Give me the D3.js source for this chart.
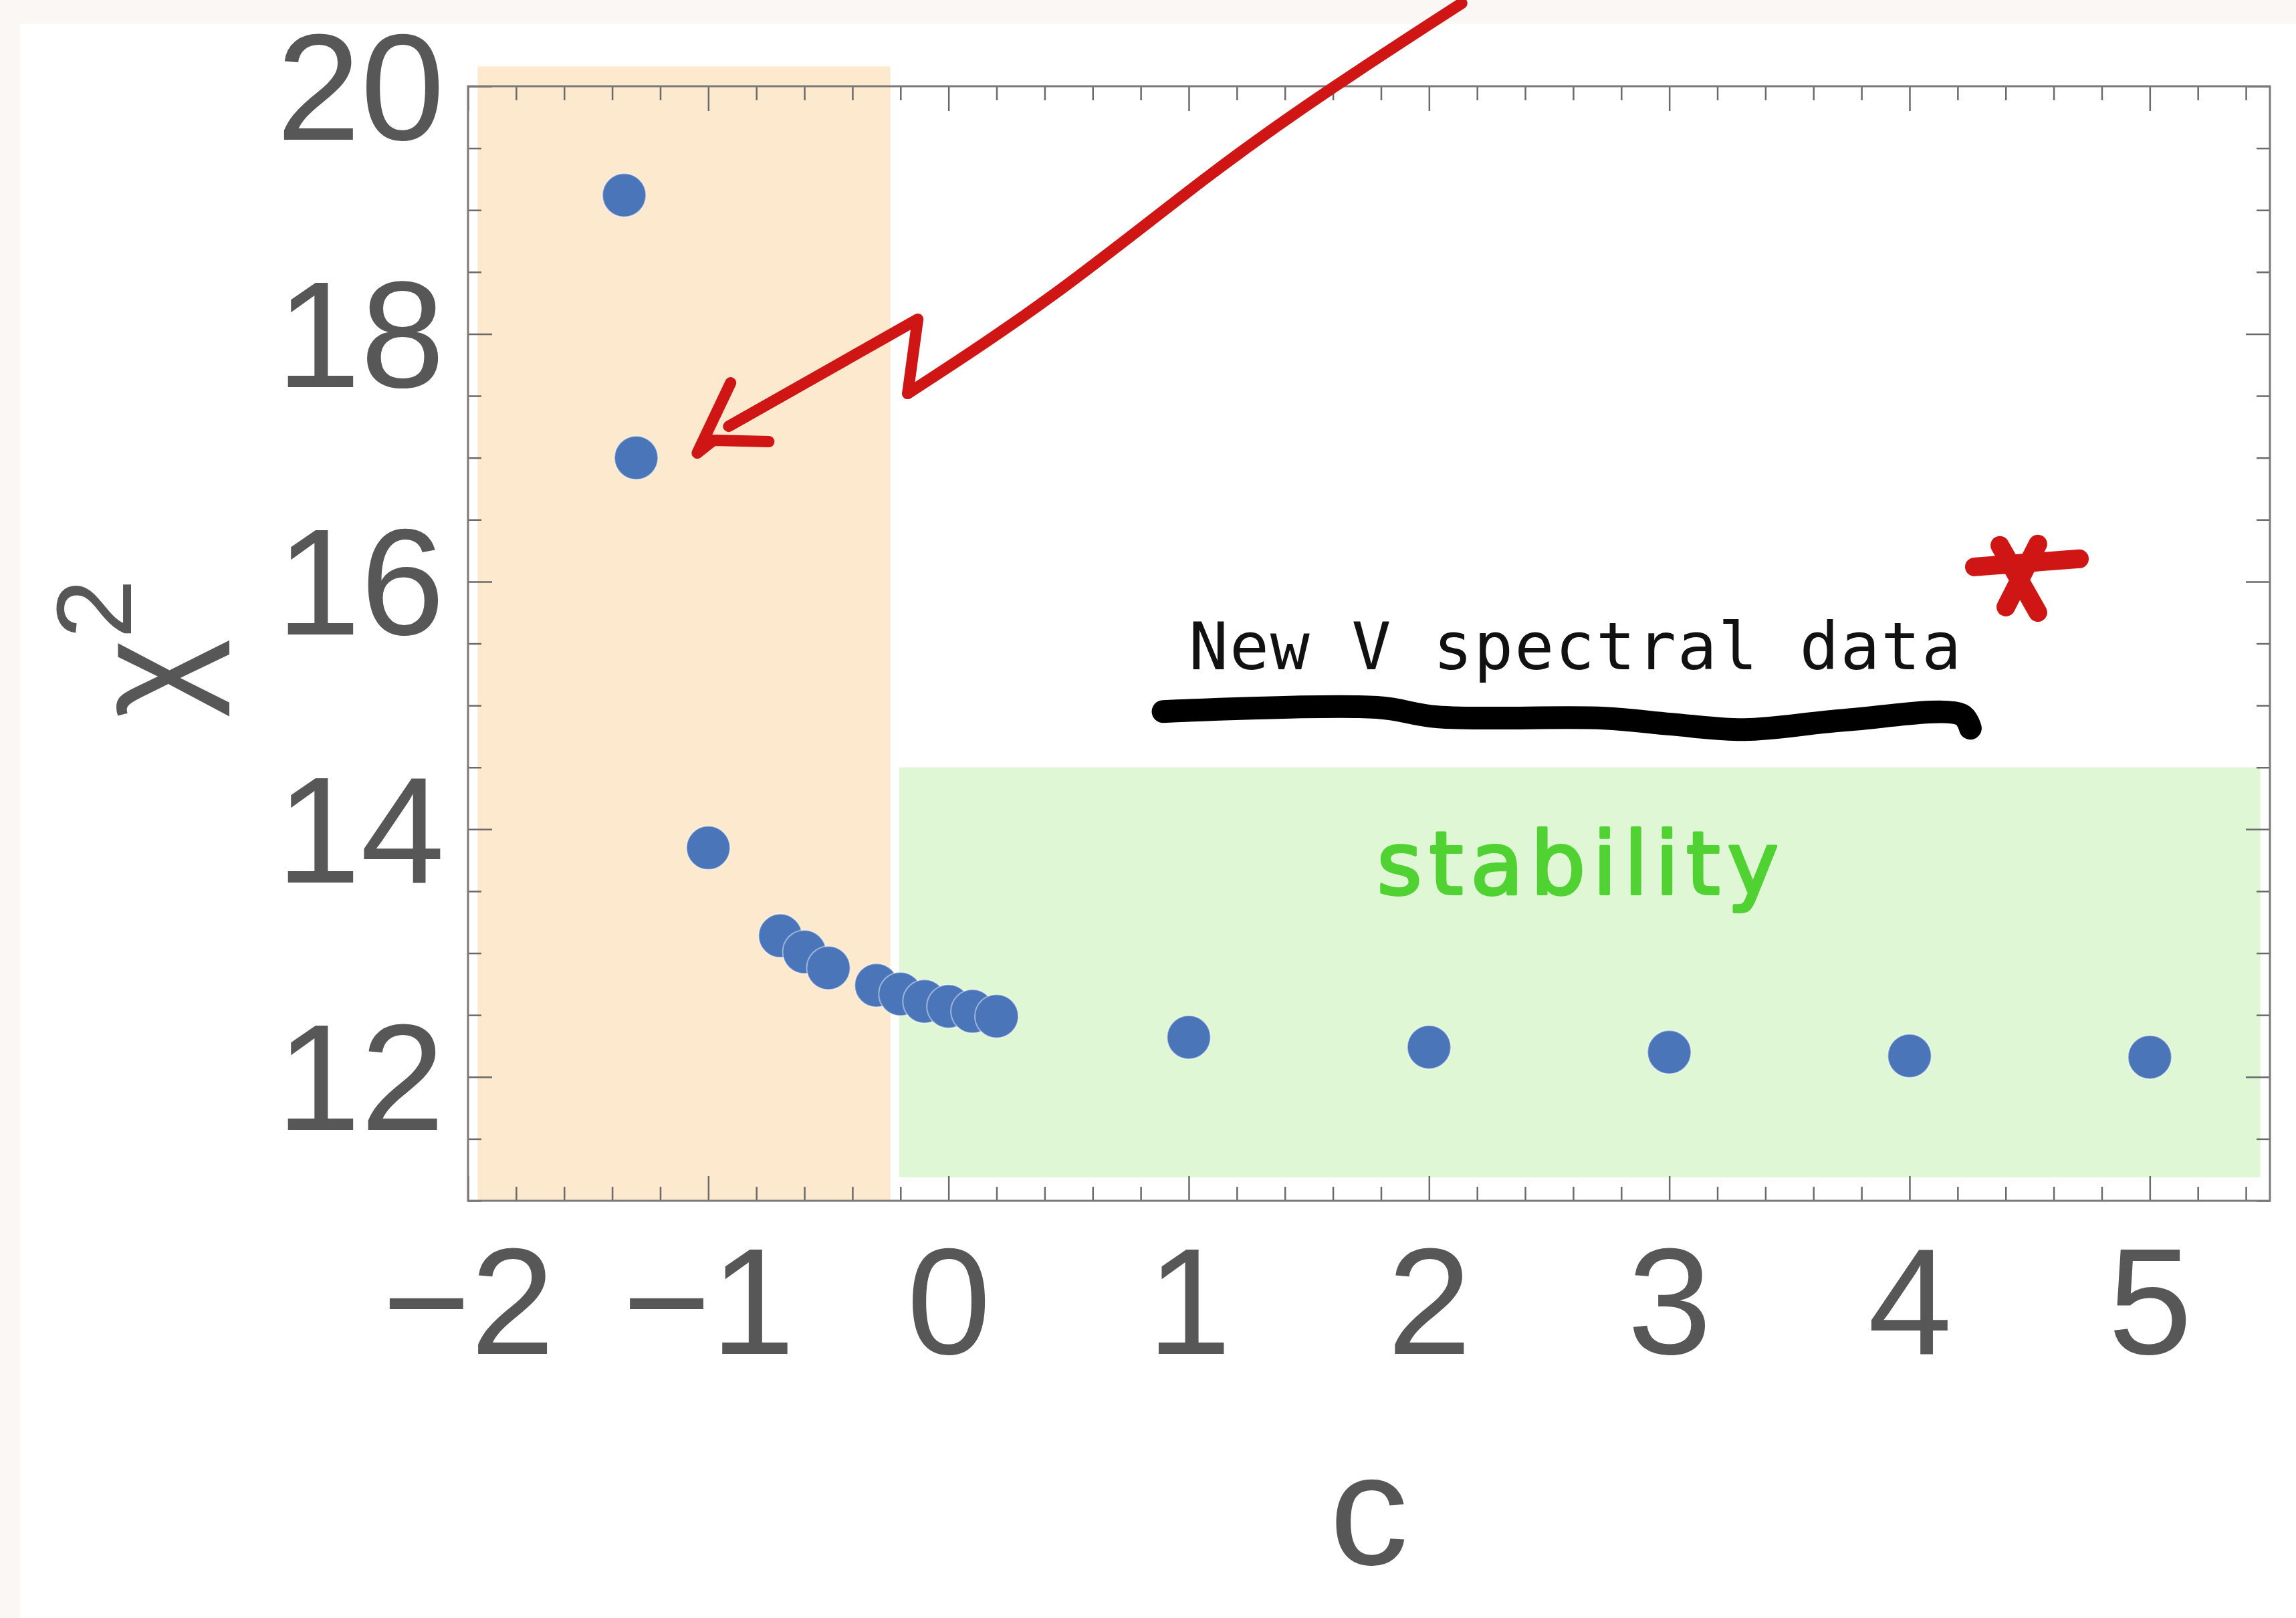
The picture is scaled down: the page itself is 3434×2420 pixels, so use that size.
<!DOCTYPE html>
<html>
<head>
<meta charset="utf-8">
<script src="https://cdn.jsdelivr.net/npm/d3@7"></script>
<style>
  html, body { margin: 0; padding: 0; background: #ffffff; }
  svg { display: block; }
</style>
</head>
<body>
<svg id="chart" width="3434" height="2420"></svg>
<script>
// ---- data: chi-squared of the fit versus the parameter c ----
const cValues    = [-1.35, -1.3, -1.0, -0.7, -0.6, -0.5, -0.3, -0.2, -0.1, 0.0, 0.1, 0.2, 1, 2, 3, 4, 5];
const chi2Values = [19.12, 17.0, 13.85, 13.14, 13.01, 12.88, 12.74, 12.67, 12.61, 12.57, 12.53, 12.49, 12.32, 12.24, 12.2, 12.17, 12.16];

const xTickLabels = [-2, -1, 0, 1, 2, 3, 4, 5];
const yTickLabels = [12, 14, 16, 18, 20];

// shaded regions (in c, chi^2 units)
const unstableBand = { c0: -1.96, c1: -0.242, y0: 11.0, y1: 20.16 };
const stableBand   = { c0: -0.206, c1: 5.46, y0: 11.19, y1: 14.5 };

// hand-drawn annotations, in (c, chi^2) units
const arrowShaft = [[-0.17, 17.519], [0.426, 18.27], [1.111, 19.336], [1.599, 19.995], [2.136, 20.67]];
const arrowZig   = [[-0.17, 17.519], [-0.128, 18.119], [-0.915, 17.254]];
const arrowHead  = [[-0.907, 17.605], [-1.046, 17.038], [-0.979, 17.141], [-0.748, 17.13]];
const underline  = [[0.893, 14.951], [1.783, 14.984], [2.033, 14.908], [2.729, 14.897], [3.007, 14.849], [3.313, 14.805], [3.73, 14.881], [4.217, 14.924], [4.253, 14.816]];
const starStrokes = [
  [[4.27, 16.119], [4.707, 16.184]],
  [[4.376, 16.292], [4.534, 15.751]],
  [[4.534, 16.303], [4.401, 15.795]]
];
const noteText  = { label: "New V spectral data", c: 1.0, y: 15.29, c1: 4.215 };
const bandLabel = { label: "stability", c: 1.783, y: 13.48, c1: 3.455 };

// ---- layout ----
const W = 3434, H = 2420;
const plot = { left: 700, right: 3395, top: 129, bottom: 1796 };

const svg = d3.select("#chart");

const x = d3.scaleLinear().domain([-2, 5.5]).range([plot.left, plot.right]);
const y = d3.scaleLinear().domain([11, 20]).range([plot.bottom, plot.top]);

// page background with a faint border strip at top and left
svg.append("rect").attr("width", W).attr("height", H).attr("fill", "#faf7f4");
svg.append("rect").attr("x", 30).attr("y", 36).attr("width", W - 30).attr("height", H - 36).attr("fill", "#ffffff");

// shaded regions
svg.append("rect")
  .attr("x", x(unstableBand.c0)).attr("y", y(unstableBand.y1))
  .attr("width", x(unstableBand.c1) - x(unstableBand.c0))
  .attr("height", y(unstableBand.y0) - y(unstableBand.y1))
  .attr("fill", "#fde9ce");
svg.append("rect")
  .attr("x", x(stableBand.c0)).attr("y", y(stableBand.y1))
  .attr("width", x(stableBand.c1) - x(stableBand.c0))
  .attr("height", y(stableBand.y0) - y(stableBand.y1))
  .attr("fill", "#e0f7d6");

// ---- frame with inward ticks ----
const tickColor = "#6a6a6a";
const labelColor = "#575757";
const labelFont = "'Liberation Sans', Arial, sans-serif";

const xMinor = d3.range(-2, 5.5001, 0.2).map(v => +v.toFixed(2)).filter(v => Math.abs(v - Math.round(v)) > 1e-6);
const yMinor = d3.range(11, 20.0001, 0.5).map(v => +v.toFixed(2)).filter(v => !yTickLabels.includes(v));
const xMajor = xTickLabels;
const yMajor = yTickLabels;

function styleAxis(g) {
  g.select(".domain").remove();
  g.selectAll(".tick line").attr("stroke", tickColor).attr("stroke-width", 2.5);
  g.selectAll(".tick text")
    .attr("fill", labelColor)
    .style("font-family", labelFont)
    .style("font-size", "226px");
}

// bottom
svg.append("g").attr("transform", `translate(0,${plot.bottom})`)
  .call(d3.axisBottom(x).tickValues(xMajor).tickSize(-37).tickPadding(69)
    .tickFormat(d => d < 0 ? "\u2212" + Math.abs(d) : String(d)))
  .call(styleAxis);
svg.append("g").attr("transform", `translate(0,${plot.bottom})`)
  .call(d3.axisBottom(x).tickValues(xMinor).tickSize(-21).tickFormat(""))
  .call(styleAxis);
// top
svg.append("g").attr("transform", `translate(0,${plot.top})`)
  .call(d3.axisTop(x).tickValues(xMajor).tickSize(-37).tickFormat(""))
  .call(styleAxis);
svg.append("g").attr("transform", `translate(0,${plot.top})`)
  .call(d3.axisTop(x).tickValues(xMinor).tickSize(-21).tickFormat(""))
  .call(styleAxis);
// left
svg.append("g").attr("transform", `translate(${plot.left},0)`)
  .call(d3.axisLeft(y).tickValues(yMajor).tickSize(-36).tickPadding(35))
  .call(styleAxis)
  .call(g => g.selectAll(".tick text").attr("dy", "0.35em"));
svg.append("g").attr("transform", `translate(${plot.left},0)`)
  .call(d3.axisLeft(y).tickValues(yMinor).tickSize(-20).tickFormat(""))
  .call(styleAxis);
// right
svg.append("g").attr("transform", `translate(${plot.right},0)`)
  .call(d3.axisRight(y).tickValues(yMajor).tickSize(-36).tickFormat(""))
  .call(styleAxis);
svg.append("g").attr("transform", `translate(${plot.right},0)`)
  .call(d3.axisRight(y).tickValues(yMinor).tickSize(-20).tickFormat(""))
  .call(styleAxis);

svg.append("rect")
  .attr("x", plot.left).attr("y", plot.top)
  .attr("width", plot.right - plot.left).attr("height", plot.bottom - plot.top)
  .attr("fill", "none").attr("stroke", "#7a7a7a").attr("stroke-width", 3);

// axis titles
svg.append("text")
  .attr("x", (plot.left + plot.right) / 2).attr("y", 2340)
  .attr("text-anchor", "middle")
  .attr("fill", labelColor)
  .style("font-family", labelFont).style("font-size", "236px")
  .text("c");

const yTitle = svg.append("text")
  .attr("transform", `translate(296, 970) rotate(-90)`)
  .attr("text-anchor", "middle")
  .attr("fill", labelColor)
  .style("font-family", labelFont).style("font-size", "226px");
yTitle.append("tspan").text("\u03C7");
yTitle.append("tspan").attr("dy", -100).style("font-size", "160px").text("2");

// ---- data points ----
const points = cValues.map((c, i) => ({ c, v: chi2Values[i] }));
svg.append("g").selectAll("circle").data(points).join("circle")
  .attr("cx", d => x(d.c)).attr("cy", d => y(d.v)).attr("r", 32.5)
  .attr("fill", "#4a75b9")
  .attr("stroke", "rgba(255,255,255,0.45)").attr("stroke-width", 2);

// ---- annotations ----
const line = d3.line().x(d => x(d[0])).y(d => y(d[1]));
const smooth = d3.line().x(d => x(d[0])).y(d => y(d[1])).curve(d3.curveCatmullRom.alpha(0.5));
const bent = d3.line().x(d => x(d[0])).y(d => y(d[1])).curve(d3.curveBasis);

// underline under the note
svg.append("path").attr("d", smooth(underline))
  .attr("fill", "none").attr("stroke", "#000").attr("stroke-width", 34)
  .attr("stroke-linecap", "round").attr("stroke-linejoin", "round");

svg.append("text")
  .attr("x", x(noteText.c)).attr("y", y(noteText.y))
  .attr("textLength", x(noteText.c1) - x(noteText.c))
  .attr("lengthAdjust", "spacing")
  .attr("fill", "#111")
  .style("font-family", "'DejaVu Sans Mono', monospace").style("font-size", "98px")
  .text(noteText.label);

svg.append("text")
  .attr("x", x(bandLabel.c)).attr("y", y(bandLabel.y))
  .attr("textLength", x(bandLabel.c1) - x(bandLabel.c))
  .attr("lengthAdjust", "spacing")
  .attr("fill", "#50d232")
  .attr("stroke", "#50d232").attr("stroke-width", 4).attr("stroke-linejoin", "round")
  .style("font-family", "'DejaVu Sans', sans-serif").style("font-size", "130px")
  .text(bandLabel.label);

// red asterisk
svg.append("g").selectAll("path").data(starStrokes).join("path")
  .attr("d", d => line(d))
  .attr("fill", "none").attr("stroke", "#d01515").attr("stroke-width", 28)
  .attr("stroke-linecap", "round");

// red arrow
const arrowG = svg.append("g")
  .attr("fill", "none").attr("stroke", "#d01515").attr("stroke-width", 17)
  .attr("stroke-linecap", "round").attr("stroke-linejoin", "round");
arrowG.append("path").attr("d", bent(arrowShaft));
arrowG.append("path").attr("d", line(arrowZig));
arrowG.append("path").attr("d", line(arrowHead));
</script>
</body>
</html>
